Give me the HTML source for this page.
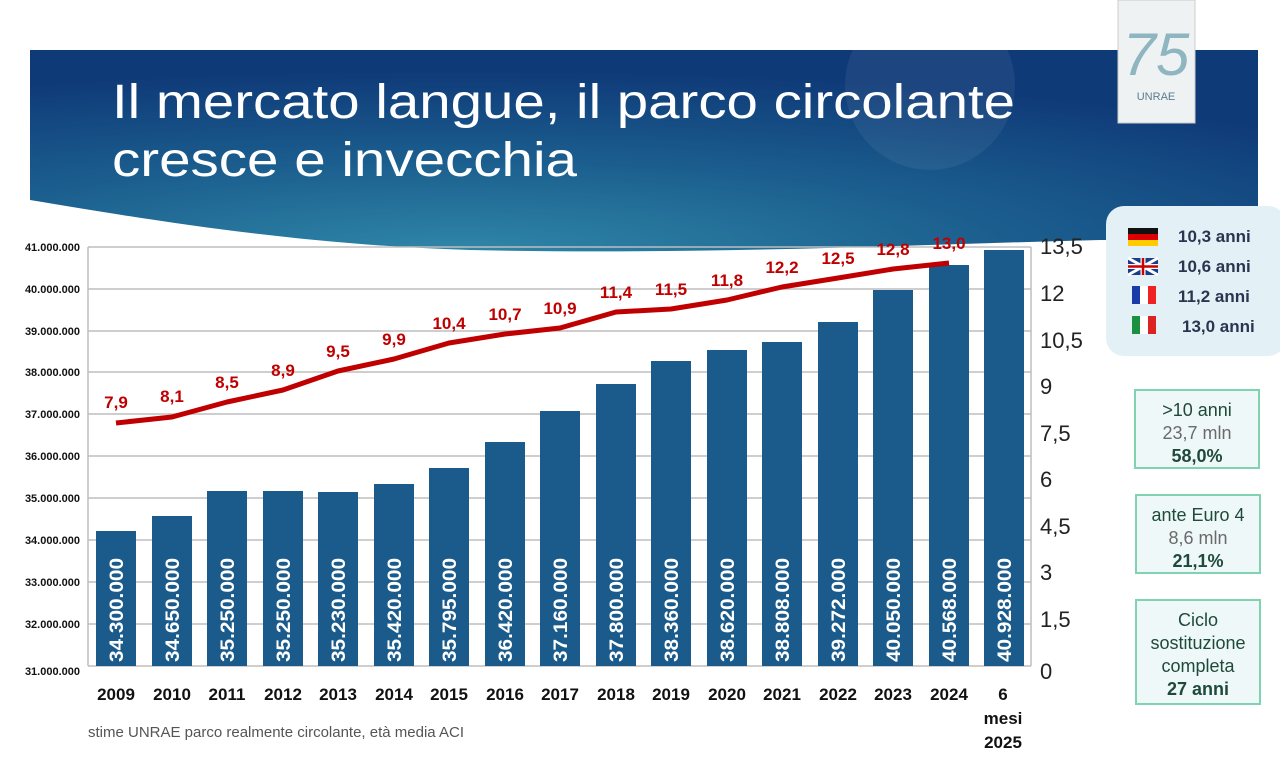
<!DOCTYPE html>
<html><head><meta charset="utf-8"><style>
html,body{margin:0;padding:0;background:#fff;}
body{width:1280px;height:780px;position:relative;overflow:hidden;font-family:"Liberation Sans",sans-serif;}
.box{position:absolute;border:2px solid #7fd3b0;background:#eef8f8;text-align:center;color:#1f4a3a;font-size:18px;line-height:23px;}
</style></head><body>
<svg width="1280" height="780" style="position:absolute;left:0;top:0">
<defs>
<radialGradient id="bg" cx="0.35" cy="1.0" r="0.9">
<stop offset="0" stop-color="#2f86a8"/><stop offset="0.5" stop-color="#1b5e8e"/><stop offset="1" stop-color="#0f3a78"/>
</radialGradient>
</defs>
<path d="M30 50 L1258 50 L1258 240 L1100 240 C900 245 700 255 470 250 C300 245 150 220 30 200 Z" fill="url(#bg)"/>
<circle cx="930" cy="85" r="85" fill="#ffffff" opacity="0.06"/>
<rect x="1118" y="0" width="77" height="123" fill="#eef2f2" stroke="#ccc"/>
<text x="1156" y="75" font-size="60" fill="#8fb5c0" text-anchor="middle" font-family="Liberation Sans" font-style="italic">75</text>
<text x="1156" y="100" font-size="11" fill="#5a7c8f" text-anchor="middle">UNRAE</text>
<text x="112" y="118" font-size="48" fill="#fff" textLength="903" lengthAdjust="spacingAndGlyphs">Il mercato langue, il parco circolante</text>
<text x="112" y="176" font-size="48" fill="#fff" textLength="465" lengthAdjust="spacingAndGlyphs">cresce e invecchia</text>
<g stroke="#bdbdbd" stroke-width="1.5">
<line x1="88" y1="247" x2="1031" y2="247"/><line x1="88" y1="289" x2="1031" y2="289"/><line x1="88" y1="331" x2="1031" y2="331"/><line x1="88" y1="372" x2="1031" y2="372"/><line x1="88" y1="414" x2="1031" y2="414"/><line x1="88" y1="456" x2="1031" y2="456"/><line x1="88" y1="498" x2="1031" y2="498"/><line x1="88" y1="540" x2="1031" y2="540"/><line x1="88" y1="582" x2="1031" y2="582"/><line x1="88" y1="624" x2="1031" y2="624"/>
<line x1="88" y1="247" x2="88" y2="666"/><line x1="1031" y1="247" x2="1031" y2="666"/><line x1="88" y1="666" x2="1031" y2="666"/>
</g>
<g font-size="11" font-weight="bold" fill="#111" text-anchor="end">
<text x="80" y="251">41.000.000</text><text x="80" y="293">40.000.000</text><text x="80" y="335">39.000.000</text><text x="80" y="376">38.000.000</text><text x="80" y="418">37.000.000</text><text x="80" y="460">36.000.000</text><text x="80" y="502">35.000.000</text><text x="80" y="544">34.000.000</text><text x="80" y="586">33.000.000</text><text x="80" y="628">32.000.000</text><text x="80" y="675">31.000.000</text>
</g>
<g font-size="22" fill="#222">
<text x="1040" y="254">13,5</text><text x="1040" y="301">12</text><text x="1040" y="348">10,5</text><text x="1040" y="394">9</text><text x="1040" y="441">7,5</text><text x="1040" y="487">6</text><text x="1040" y="534">4,5</text><text x="1040" y="580">3</text><text x="1040" y="627">1,5</text><text x="1040" y="679">0</text>
</g>
<g fill="#1a5b8c">
<rect x="96" y="531" width="40" height="135"/><rect x="152" y="516" width="40" height="150"/><rect x="207" y="491" width="40" height="175"/><rect x="263" y="491" width="40" height="175"/><rect x="318" y="492" width="40" height="174"/><rect x="374" y="484" width="40" height="182"/><rect x="429" y="468" width="40" height="198"/><rect x="485" y="442" width="40" height="224"/><rect x="540" y="411" width="40" height="255"/><rect x="596" y="384" width="40" height="282"/><rect x="651" y="361" width="40" height="305"/><rect x="707" y="350" width="40" height="316"/><rect x="762" y="342" width="40" height="324"/><rect x="818" y="322" width="40" height="344"/><rect x="873" y="290" width="40" height="376"/><rect x="929" y="265" width="40" height="401"/><rect x="984" y="250" width="40" height="416"/>
</g>
<g font-size="19" font-weight="bold" fill="#fff">
<text transform="translate(123,662) rotate(-90)" textLength="104" lengthAdjust="spacingAndGlyphs">34.300.000</text><text transform="translate(179,662) rotate(-90)" textLength="104" lengthAdjust="spacingAndGlyphs">34.650.000</text><text transform="translate(234,662) rotate(-90)" textLength="104" lengthAdjust="spacingAndGlyphs">35.250.000</text><text transform="translate(290,662) rotate(-90)" textLength="104" lengthAdjust="spacingAndGlyphs">35.250.000</text><text transform="translate(345,662) rotate(-90)" textLength="104" lengthAdjust="spacingAndGlyphs">35.230.000</text><text transform="translate(401,662) rotate(-90)" textLength="104" lengthAdjust="spacingAndGlyphs">35.420.000</text><text transform="translate(456,662) rotate(-90)" textLength="104" lengthAdjust="spacingAndGlyphs">35.795.000</text><text transform="translate(512,662) rotate(-90)" textLength="104" lengthAdjust="spacingAndGlyphs">36.420.000</text><text transform="translate(567,662) rotate(-90)" textLength="104" lengthAdjust="spacingAndGlyphs">37.160.000</text><text transform="translate(623,662) rotate(-90)" textLength="104" lengthAdjust="spacingAndGlyphs">37.800.000</text><text transform="translate(678,662) rotate(-90)" textLength="104" lengthAdjust="spacingAndGlyphs">38.360.000</text><text transform="translate(734,662) rotate(-90)" textLength="104" lengthAdjust="spacingAndGlyphs">38.620.000</text><text transform="translate(789,662) rotate(-90)" textLength="104" lengthAdjust="spacingAndGlyphs">38.808.000</text><text transform="translate(845,662) rotate(-90)" textLength="104" lengthAdjust="spacingAndGlyphs">39.272.000</text><text transform="translate(900,662) rotate(-90)" textLength="104" lengthAdjust="spacingAndGlyphs">40.050.000</text><text transform="translate(956,662) rotate(-90)" textLength="104" lengthAdjust="spacingAndGlyphs">40.568.000</text><text transform="translate(1011,662) rotate(-90)" textLength="104" lengthAdjust="spacingAndGlyphs">40.928.000</text>
</g>
<polyline fill="none" stroke="#c00000" stroke-width="5" stroke-linejoin="round" points="116,423 172,417 227,402 283,390 338,371 394,359 449,343 505,334 560,328 616,312 671,309 727,300 782,287 838,278 893,269 949,263"/>
<g font-size="17" font-weight="bold" fill="#c00000" text-anchor="middle">
<text x="116" y="408">7,9</text><text x="172" y="402">8,1</text><text x="227" y="388">8,5</text><text x="283" y="376">8,9</text><text x="338" y="357">9,5</text><text x="394" y="345">9,9</text><text x="449" y="329">10,4</text><text x="505" y="320">10,7</text><text x="560" y="314">10,9</text><text x="616" y="298">11,4</text><text x="671" y="295">11,5</text><text x="727" y="286">11,8</text><text x="782" y="273">12,2</text><text x="838" y="264">12,5</text><text x="893" y="255">12,8</text><text x="949" y="249">13,0</text>
</g>
<g font-size="17" font-weight="bold" fill="#111" text-anchor="middle">
<text x="116" y="700">2009</text><text x="172" y="700">2010</text><text x="227" y="700">2011</text><text x="283" y="700">2012</text><text x="338" y="700">2013</text><text x="394" y="700">2014</text><text x="449" y="700">2015</text><text x="505" y="700">2016</text><text x="560" y="700">2017</text><text x="616" y="700">2018</text><text x="671" y="700">2019</text><text x="727" y="700">2020</text><text x="782" y="700">2021</text><text x="838" y="700">2022</text><text x="893" y="700">2023</text><text x="949" y="700">2024</text>
<text x="1003" y="700">6</text><text x="1003" y="724">mesi</text><text x="1003" y="748">2025</text>
</g>
<text x="88" y="737" font-size="15" fill="#555">stime UNRAE parco realmente circolante, età media ACI</text>
<rect x="1106" y="206" width="180" height="150" rx="18" fill="#e3f1f7"/>
<rect x="1128" y="228" width="30" height="6" fill="#111"/><rect x="1128" y="234" width="30" height="6" fill="#d00"/><rect x="1128" y="240" width="30" height="6" fill="#fc0"/>
<rect x="1128" y="258" width="30" height="17" fill="#1a3c8c"/><path d="M1128 258 L1158 275 M1158 258 L1128 275" stroke="#fff" stroke-width="3"/><path d="M1143 258 V275 M1128 266.5 H1158" stroke="#fff" stroke-width="5"/><path d="M1143 258 V275 M1128 266.5 H1158" stroke="#c00" stroke-width="2.5"/>
<rect x="1132" y="286" width="8" height="18" fill="#1a3ca8"/><rect x="1140" y="286" width="8" height="18" fill="#fff"/><rect x="1148" y="286" width="8" height="18" fill="#e22"/>
<rect x="1132" y="316" width="8" height="18" fill="#1a9040"/><rect x="1140" y="316" width="8" height="18" fill="#fff"/><rect x="1148" y="316" width="8" height="18" fill="#d22"/>
<g font-size="17" font-weight="bold" fill="#2a3550">
<text x="1178" y="242">10,3 anni</text><text x="1178" y="272">10,6 anni</text><text x="1178" y="302">11,2 anni</text><text x="1182" y="332">13,0 anni</text>
</g>
</svg>
<div class="box" style="left:1134px;top:389px;width:126px;height:80px;padding-top:8px;box-sizing:border-box">&gt;10 anni<br><span style="color:#6a6a6a">23,7 mln</span><br><b>58,0%</b></div>
<div class="box" style="left:1135px;top:494px;width:126px;height:80px;padding-top:8px;box-sizing:border-box">ante Euro 4<br><span style="color:#6a6a6a">8,6 mln</span><br><b>21,1%</b></div>
<div class="box" style="left:1135px;top:599px;width:126px;height:106px;padding-top:8px;box-sizing:border-box">Ciclo<br>sostituzione<br>completa<br><b>27 anni</b></div>
</body></html>
